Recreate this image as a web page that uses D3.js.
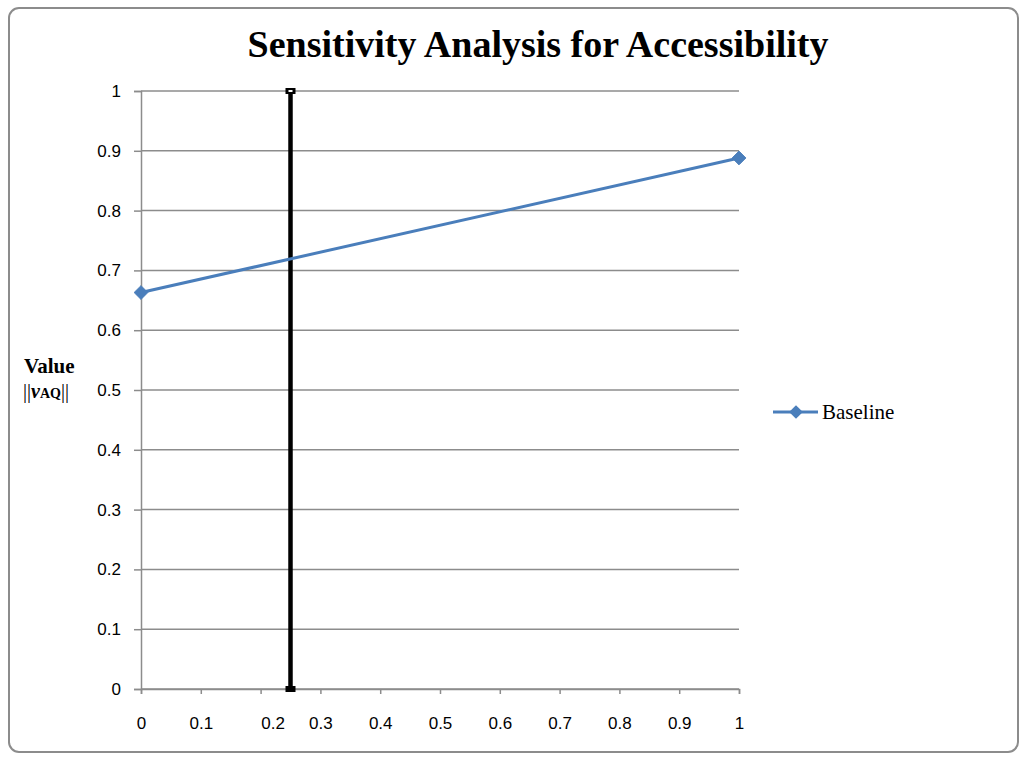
<!DOCTYPE html>
<html><head><meta charset="utf-8">
<script src="https://cdnjs.cloudflare.com/ajax/libs/d3/7.8.5/d3.min.js"></script>
<style>body{margin:0;background:#fff}</style>
</head><body>
<svg id="c" width="1021" height="757"></svg>
<script>
const title = "Sensitivity Analysis for Accessibility";
const seriesName = "Baseline";
const baselineX = [0, 1];
const baselineY = [0.663, 0.888];
const markerLineX = [0.25, 0.25];
const markerLineY = [0, 1];
const xTicks = [0, 0.1, 0.2, 0.3, 0.4, 0.5, 0.6, 0.7, 0.8, 0.9, 1];
const yTicks = [0, 0.1, 0.2, 0.3, 0.4, 0.5, 0.6, 0.7, 0.8, 0.9, 1];

const svg = d3.select("#c");
const blue = "#4a7ebb";
const grid = "#8c8c8c";
const serif = "'Liberation Serif', 'Times New Roman', serif";
const sans = "'Liberation Sans', Arial, sans-serif";

// outer frame
svg.append("rect").attr("x", 9).attr("y", 8).attr("width", 1009).attr("height", 744)
  .attr("rx", 10).attr("fill", "#fff").attr("stroke", "#8c8c8c").attr("stroke-width", 2);

const x = d3.scaleLinear().domain([0, 1]).range([141, 739]);
const y = d3.scaleLinear().domain([0, 1]).range([689, 91]);

// gridlines
svg.append("g").selectAll("line").data(yTicks).join("line")
  .attr("x1", x(0)).attr("x2", x(1)).attr("y1", d => y(d)).attr("y2", d => y(d))
  .attr("stroke", grid).attr("stroke-width", 1.5);

// y axis
const yAxis = svg.append("g").attr("transform", `translate(${x(0)},0)`)
  .call(d3.axisLeft(y).tickValues(yTicks).tickSize(7).tickPadding(13).tickFormat(d3.format("~g")));
// x axis
const xAxis = svg.append("g").attr("transform", `translate(0,${y(0)})`)
  .call(d3.axisBottom(x).tickValues(xTicks).tickSize(5).tickPadding(23).tickFormat(d3.format("~g")));
[yAxis, xAxis].forEach(g => {
  g.attr("font-size", null).attr("font-family", null);
  g.select(".domain").attr("stroke", grid).attr("stroke-width", 1.5);
  g.selectAll(".tick line").attr("stroke", grid).attr("stroke-width", 1.5);
  g.selectAll(".tick text").attr("fill", "#000")
    .style("font-size", "17px").style("font-family", sans);
});
xAxis.selectAll(".tick text").filter(d => d === 0.2).attr("dx", 12);

// vertical black line
const vl = markerLineX.map((d, i) => [d, markerLineY[i]]);
svg.append("path").attr("d", d3.line().x(d => x(d[0])).y(d => y(d[1]))(vl))
  .attr("stroke", "#000").attr("stroke-width", 4.5).attr("fill", "none");
svg.append("g").selectAll("rect").data(vl).join("rect")
  .attr("x", d => x(d[0]) - 5).attr("y", d => y(d[1]) - 3).attr("width", 10).attr("height", 6)
  .attr("fill", "#000");
svg.append("g").selectAll("rect").data(vl.filter(d => d[1] === d3.max(markerLineY))).join("rect")
  .attr("x", d => x(d[0]) - 2).attr("y", d => y(d[1]) - 1).attr("width", 4).attr("height", 2)
  .attr("fill", "#fff");

// baseline series
const bl = baselineX.map((d, i) => [d, baselineY[i]]);
svg.append("path").attr("d", d3.line().x(d => x(d[0])).y(d => y(d[1]))(bl))
  .attr("stroke", blue).attr("stroke-width", 3).attr("fill", "none");
const diamond = d3.symbol().type(d3.symbolDiamond2).size(120);
svg.append("g").selectAll("path").data(bl).join("path")
  .attr("transform", d => `translate(${x(d[0])},${y(d[1])})`)
  .attr("d", diamond).attr("fill", blue).attr("stroke", blue).attr("stroke-width", 1);

// title
svg.append("text").attr("x", 538).attr("y", 57).attr("text-anchor", "middle")
  .attr("font-family", serif).attr("font-weight", "bold").attr("font-size", 38)
  .text(title);

// y axis title
svg.append("text").attr("x", 24).attr("y", 373)
  .attr("font-family", serif).attr("font-weight", "bold").attr("font-size", 21).text("Value");
const yt2 = svg.append("text").attr("x", 23).attr("y", 398)
  .attr("font-family", serif).attr("font-size", 20).attr("fill", "#000");
yt2.append("tspan").text("||");
yt2.append("tspan").attr("font-style", "italic").attr("font-weight", "bold").text("v");
yt2.append("tspan").attr("font-weight", "bold").attr("font-size", 14).text("AQ");
yt2.append("tspan").text("||");

// legend
const lg = svg.append("g");
lg.append("line").attr("x1", 773).attr("x2", 818).attr("y1", 412).attr("y2", 412)
  .attr("stroke", blue).attr("stroke-width", 3);
lg.append("path").attr("transform", "translate(796,412)").attr("d", diamond).attr("fill", blue);
lg.append("text").attr("x", 822).attr("y", 419)
  .attr("font-family", serif).attr("font-size", 21).text(seriesName);
</script>
</body></html>
